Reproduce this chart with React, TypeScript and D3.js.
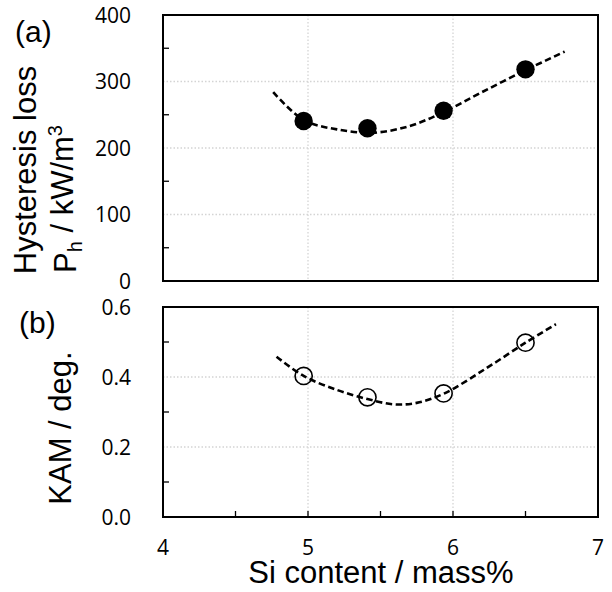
import React from "react";
import * as d3 from "d3";

// Si content (mass%) for each sample
const siContent = [4.97, 5.41, 5.935, 6.5];
// (a) hysteresis loss, kW/m^3
const hysteresisLoss = [240.6, 229.6, 256, 318.3];
// (b) KAM, deg.
const kamValues = [0.403, 0.342, 0.353, 0.498];

// dashed trend curves
const trendLossX = [4.76, 4.97, 5.2, 5.45, 5.7, 5.935, 6.2, 6.5, 6.77];
const trendLossY = [284, 242, 228, 223, 233, 254, 284, 317, 345];
const trendKamX = [4.783, 4.97, 5.2, 5.41, 5.59, 5.75, 5.935, 6.23, 6.5, 6.71];
const trendKamY = [0.458, 0.403, 0.363, 0.337, 0.322, 0.326, 0.352, 0.425, 0.498, 0.551];

const xTicks = [4, 5, 6, 7];
const xMinorTicks = [4.5, 5, 5.5, 6, 6.5];
const lossTicks = [0, 100, 200, 300, 400];
const lossMinor = [50, 150, 250, 350];
const kamTicks = [0, 0.2, 0.4, 0.6];
const kamMinor = [0.1, 0.3, 0.5];

const W = 612;
const H = 592;
const left = 163;
const right = 598;
const titleFont = "'Liberation Sans', Arial, sans-serif";
const tickFont = "'Open Sans', 'Noto Sans', sans-serif";

function Panel(props: {
  top: number;
  bottom: number;
  ys: number[];
  ticks: number[];
  fmt: (v: number) => string;
  minor: number[];
  filled: boolean;
  tx: number[];
  ty: number[];
  showX: boolean;
}) {
  const { top, bottom, ys, ticks, fmt, minor, filled, tx, ty, showX } = props;
  const x = d3.scaleLinear().domain([4, 7]).range([left, right]);
  const y = d3.scaleLinear().domain([ticks[0], ticks[ticks.length - 1]]).range([bottom, top]);
  const line = d3
    .line<number>()
    .x((d) => x(d))
    .y((d, i) => y(ty[i]))
    .curve(d3.curveCatmullRom.alpha(0.5));
  const grid = "#d4d4d4";
  return (
    <g>
      {ticks.slice(1, -1).map((t) => (
        <line key={"h" + t} x1={left} x2={right} y1={y(t)} y2={y(t)} stroke={grid} strokeWidth={1.3} strokeDasharray="1.5,2" />
      ))}
      {[5, 6].map((t) => (
        <line key={"v" + t} x1={x(t)} x2={x(t)} y1={top} y2={bottom} stroke={grid} strokeWidth={1.3} strokeDasharray="1.5,2" />
      ))}
      {minor.map((t) => (
        <line key={"m" + t} x1={left} x2={left + 6} y1={y(t)} y2={y(t)} stroke="#000" strokeWidth={1.3} />
      ))}
      {showX &&
        xMinorTicks.map((t) => (
          <line key={"xm" + t} x1={x(t)} x2={x(t)} y1={bottom} y2={bottom - 6} stroke="#000" strokeWidth={1.3} />
        ))}
      <rect x={left} y={top} width={right - left} height={bottom - top} fill="none" stroke="#000" strokeWidth={2} />
      {ticks.map((t) => (
        <text key={"t" + t} x={131} y={y(t)} dy="0.36em" textAnchor="end" fontFamily={tickFont} fontSize={21}>
          {fmt(t)}
        </text>
      ))}
      <path d={line(tx) || ""} fill="none" stroke="#000" strokeWidth={2.6} strokeDasharray="6.5,3.5" />
      {siContent.map((s, i) => (
        <circle
          key={"p" + i}
          cx={x(s)}
          cy={y(ys[i])}
          r={filled ? 9.2 : 8.6}
          fill={filled ? "#000" : "none"}
          stroke="#000"
          strokeWidth={filled ? 0 : 1.6}
        />
      ))}
      {showX &&
        xTicks.map((t) => (
          <text key={"x" + t} x={x(t)} y={547} dy="0.36em" textAnchor="middle" fontFamily={tickFont} fontSize={21}>
            {t}
          </text>
        ))}
    </g>
  );
}

export default function App() {
  return (
    <svg width={W} height={H} style={{ display: "block", position: "absolute", left: 0, top: 0 }}>
      <rect width={W} height={H} fill="#fff" />
      <Panel
        top={15}
        bottom={281}
        ys={hysteresisLoss}
        ticks={lossTicks}
        fmt={(v) => String(v)}
        minor={lossMinor}
        filled={true}
        tx={trendLossX}
        ty={trendLossY}
        showX={false}
      />
      <Panel
        top={307}
        bottom={517}
        ys={kamValues}
        ticks={kamTicks}
        fmt={(v) => v.toFixed(1)}
        minor={kamMinor}
        filled={false}
        tx={trendKamX}
        ty={trendKamY}
        showX={true}
      />
      <text x={15} y={31} dy="0.36em" fontFamily={titleFont} fontSize={30}>(a)</text>
      <text x={19} y={322} dy="0.36em" fontFamily={titleFont} fontSize={30}>(b)</text>
      <text transform="translate(25,170) rotate(-90)" dy="0.36em" textAnchor="middle" fontFamily={titleFont} fontSize={31}>
        Hysteresis loss
      </text>
      <text transform="translate(65,199) rotate(-90)" dy="0.36em" textAnchor="middle" fontFamily={titleFont} fontSize={31}>
        P<tspan fontSize={20} dy="0.3em">h</tspan>
        <tspan dy="-0.3em"> / kW/m</tspan>
        <tspan fontSize={20} dy="-0.55em">3</tspan>
      </text>
      <text transform="translate(60,428) rotate(-90)" dy="0.36em" textAnchor="middle" fontFamily={titleFont} fontSize={31}>
        KAM / deg.
      </text>
      <text x={381} y={572} dy="0.36em" textAnchor="middle" fontFamily={titleFont} fontSize={31}>
        Si content / mass%
      </text>
    </svg>
  );
}
